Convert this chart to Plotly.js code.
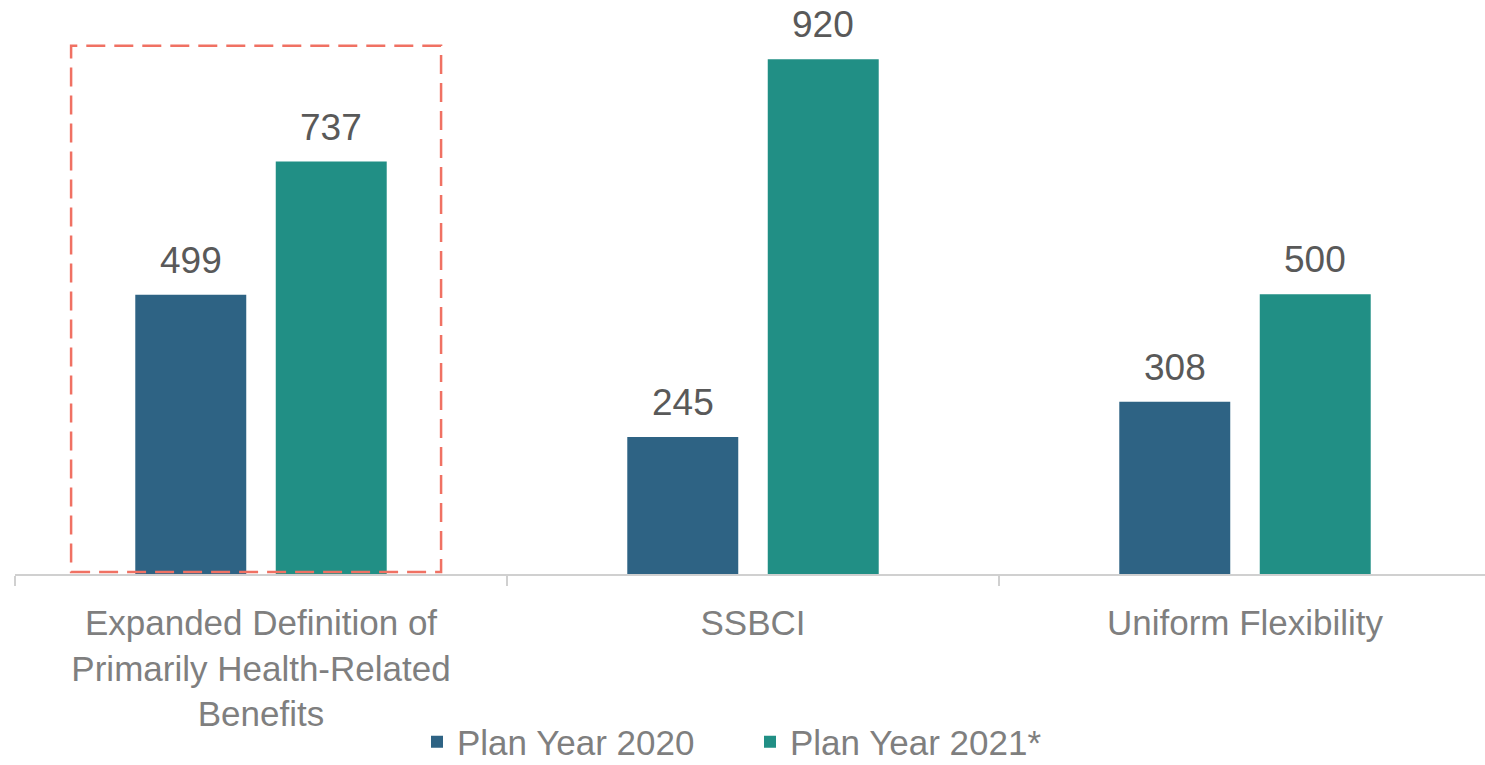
<!DOCTYPE html>
<html>
<head>
<meta charset="utf-8">
<script src="https://cdn.plot.ly/plotly-3.0.1.min.js"></script>
<style>
html,body{margin:0;padding:0;overflow:hidden;background:#fff;}
#chart{width:1485px;height:765px;}
</style>
</head>
<body>
<div id="chart"></div>
<script>
const categories = [
  "Expanded Definition of<br>Primarily Health-Related<br>Benefits",
  "SSBCI",
  "Uniform Flexibility"
];
const seriesNames = ["Plan Year 2020", "Plan Year 2021*"];
const values2020 = [499, 245, 308];
const values2021 = [737, 920, 500];

const FONT = "Liberation Sans, Arial, sans-serif";
const colors = ["#2E6384", "#218F85"];
const BARGAP = 0.429, BARGROUPGAP = 0.21;

function barTrace(name, vals, color) {
  return {
    type: "bar",
    name: name,
    x: categories,
    y: vals,
    marker: {color: color},
    hoverinfo: "skip"
  };
}

const data = [
  barTrace(seriesNames[0], values2020, colors[0]),
  barTrace(seriesNames[1], values2021, colors[1])
];

// value labels placed at each bar's centre (offset of the grouped slot)
const series = [values2020, values2021];
const slot = (1 - BARGAP) / series.length;
const annotations = [];
series.forEach((vals, s) => {
  const off = -(1 - BARGAP) / 2 + slot * (s + 0.5);
  vals.forEach((v, i) => {
    annotations.push({
      xref: "x", yref: "y",
      x: i + off, y: v,
      text: String(v),
      showarrow: false,
      xanchor: "center", yanchor: "bottom",
      yshift: 12,
      font: {family: FONT, size: 37, color: "#595959"}
    });
  });
});

const layout = {
  width: 1485,
  height: 765,
  margin: {l: 15, r: 0, t: 20, b: 191, pad: 0},
  paper_bgcolor: "#ffffff",
  plot_bgcolor: "#ffffff",
  barmode: "group",
  bargap: BARGAP,
  bargroupgap: BARGROUPGAP,
  font: {family: FONT, color: "#7F7F7F"},
  xaxis: {
    type: "category",
    range: [-0.5, 2.4878],
    showline: true,
    linecolor: "#D0D0D0",
    linewidth: 2,
    ticks: "outside",
    tickson: "boundaries",
    ticklen: 10,
    tickwidth: 2,
    tickcolor: "#D0D0D0",
    ticklabelstandoff: 17,
    tickfont: {family: FONT, size: 35, color: "#7F7F7F"},
    showgrid: false,
    zeroline: false,
    automargin: false,
    fixedrange: true
  },
  yaxis: {
    range: [0, 990],
    visible: false,
    showgrid: false,
    zeroline: false,
    fixedrange: true
  },
  showlegend: true,
  legend: {
    orientation: "h",
    xref: "paper",
    x: 0.5,
    xanchor: "center",
    yref: "container",
    y: 0.030,
    yanchor: "middle",
    entrywidth: 288,
    font: {family: FONT, size: 35, color: "#7F7F7F"},
    bgcolor: "rgba(0,0,0,0)"
  },
  annotations: annotations,
  shapes: [{
    type: "rect",
    xref: "x",
    yref: "y",
    x0: -0.386,
    x1: 0.366,
    y0: 3.6,
    y1: 944,
    line: {color: "#F07163", width: 2.5, dash: "19px,9px"},
    fillcolor: "rgba(0,0,0,0)",
    layer: "above"
  }]
};

Plotly.newPlot("chart", data, layout, {displayModeBar: false, staticPlot: true});
</script>
</body>
</html>
